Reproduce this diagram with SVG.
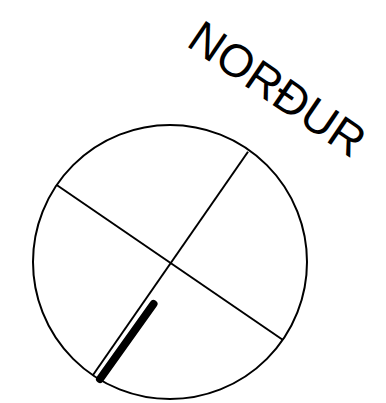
<svg xmlns="http://www.w3.org/2000/svg" width="386" height="403" viewBox="0 0 386 403">
<style>
.thin{stroke:#000;stroke-width:2;fill:none}
.thick{stroke:#000;stroke-width:8;stroke-linecap:round;fill:none}
.lbl{font-family:"Liberation Sans",Arial,sans-serif;font-size:46px;fill:#000}
</style>
<rect width="386" height="403" fill="#fff"/>
<g id="dial">
<circle class="thin" cx="170" cy="262" r="137"/>
</g>
<g id="connectors">
<line class="thin" x1="56.7" y1="185" x2="283" y2="340"/>
<line class="thin" x1="248" y1="151.7" x2="93" y2="375"/>
<line class="thick" x1="153.5" y1="304" x2="100" y2="379"/>
</g>
<g id="label">
<text class="lbl" x="268.5" y="102" text-anchor="middle" transform="rotate(34.3 268.5 102)">NORÐUR</text>
</g>
</svg>
